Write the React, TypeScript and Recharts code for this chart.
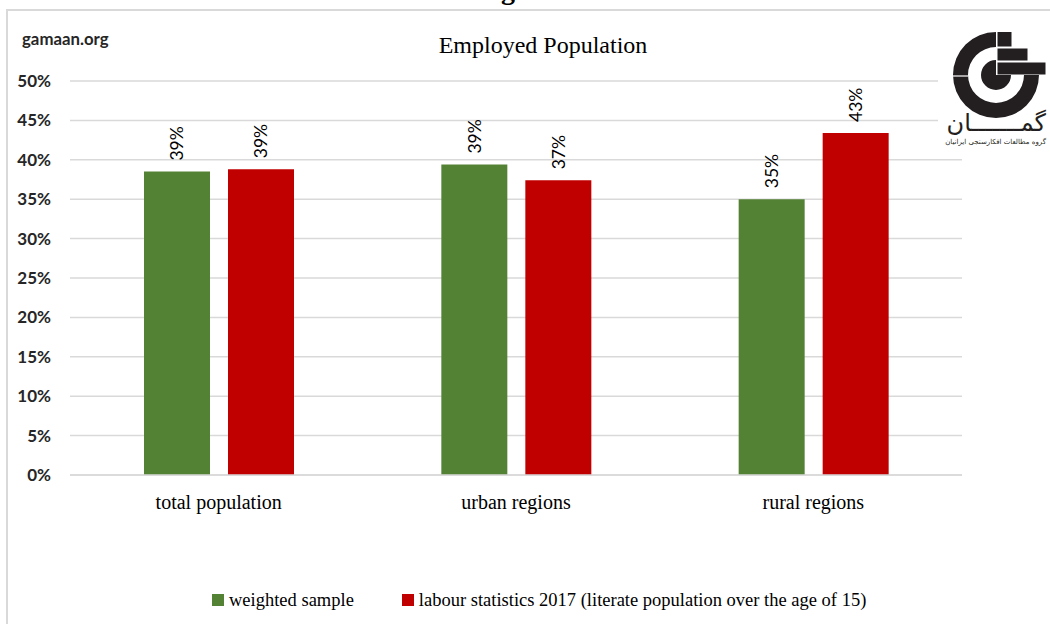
import React from 'react';
import { BarChart, Bar, XAxis, YAxis, CartesianGrid, LabelList } from 'recharts';

const categories = ['total population', 'urban regions', 'rural regions'];
const weightedSample = [38.5, 39.4, 35.0];
const labourStats2017 = [38.8, 37.4, 43.4];
const yTicks = [0, 5, 10, 15, 20, 25, 30, 35, 40, 45, 50];

const series = [
  { key: 'weighted', name: 'weighted sample', color: '#548235' },
  { key: 'labour', name: 'labour statistics 2017 (literate population over the age of 15)', color: '#c00000' },
];

const data = categories.map((name, i) => ({
  name,
  weighted: weightedSample[i],
  labour: labourStats2017[i],
}));

const serif = '"Liberation Serif", "Times New Roman", serif';

// rotated percentage sitting just above each bar
const BarValueLabel = (props: any) => {
  const { x, y, width, value } = props;
  const cx = Number(x) + Number(width) / 2;
  const ty = Number(y) - 11;
  return (
    <text
      x={cx}
      y={ty}
      transform={`rotate(-90 ${cx} ${ty})`}
      textAnchor="start"
      dominantBaseline="central"
      fontFamily="Lato, sans-serif"
      fontSize={17.5}
      fill="#000"
    >
      {Math.round(Number(value))}%
    </text>
  );
};

const Logo = () => {
  const cx = 58;
  const cy = 50;
  const R = 43;
  const r = 28;
  const d = 15;
  const ring = `M ${cx + R} ${cy} A ${R} ${R} 0 1 1 ${cx} ${cy - R} L ${cx} ${cy - r} A ${r} ${r} 0 1 0 ${cx + r} ${cy} Z`;
  const disc = `M ${cx} ${cy} L ${cx + d} ${cy} A ${d} ${d} 0 1 1 ${cx} ${cy - d} Z`;
  return (
    <div style={{ position: 'absolute', left: 938, top: 25, width: 112, height: 127, background: '#fff' }}>
      <svg width={112} height={127} style={{ position: 'absolute', left: 0, top: 0 }}>
        <path d={ring} fill="#231f20" />
        <path d={disc} fill="#231f20" />
        <rect x={cx + 1.5} y={cy - R} width={14} height={14.5} fill="#231f20" />
        <rect x={cx + 1.5} y={cy - R + 16.5} width={30} height={12} fill="#231f20" />
        <rect x={cx + 1.5} y={cy - 12.5} width={48} height={12} fill="#231f20" />
        <line x1={cx - R} y1={cy + 1} x2={cx - r} y2={cy + 1} stroke="#fff" strokeWidth={1.2} />
      </svg>
      <div
        dir="rtl"
        style={{
          position: 'absolute',
          right: 4,
          top: 85,
          fontFamily: '"DejaVu Sans", sans-serif',
          fontSize: 24,
          lineHeight: '26px',
          color: '#231f20',
          whiteSpace: 'nowrap',
        }}
      >
        گمـــــــان
      </div>
      <div
        dir="rtl"
        style={{
          position: 'absolute',
          right: 4,
          top: 112,
          fontFamily: '"DejaVu Sans", sans-serif',
          fontSize: 7,
          lineHeight: '11px',
          color: '#231f20',
          whiteSpace: 'nowrap',
        }}
      >
        گروه مطالعات افکارسنجی ایرانیان
      </div>
    </div>
  );
};

export default function App() {
  return (
    <div
      style={{
        position: 'absolute',
        left: 0,
        top: 0,
        width: 1050,
        height: 624,
        overflow: 'hidden',
        background: '#fff',
      }}
    >
      {/* heading of the page above, only its bottom edge shows */}
      <div
        style={{
          position: 'absolute',
          left: 0,
          top: 0,
          width: 1050,
          height: 9,
          overflow: 'hidden',
        }}
      >
        <div
          style={{
            position: 'absolute',
            left: 476,
            top: -24,
            fontFamily: serif,
            fontWeight: 700,
            fontSize: 28,
            lineHeight: '28px',
            color: '#000',
            whiteSpace: 'nowrap',
          }}
        >
          Figure 3
        </div>
      </div>

      {/* frame */}
      <div
        style={{
          position: 'absolute',
          left: 6,
          top: 9,
          width: 1100,
          height: 700,
          borderTop: '2px solid #d9d9d9',
          borderLeft: '2px solid #d9d9d9',
        }}
      />

      <BarChart
        width={1050}
        height={624}
        data={data}
        margin={{ top: 81, right: 88, bottom: 119, left: 0 }}
        barSize={66}
        barGap={18}
        style={{ position: 'absolute', left: 0, top: 0 }}
      >
        <CartesianGrid vertical={false} stroke="#d9d9d9" strokeWidth={1.5} />
        <XAxis
          dataKey="name"
          height={30}
          axisLine={{ stroke: '#d9d9d9', strokeWidth: 1.5 }}
          tickLine={false}
          tickMargin={14}
          tick={{ fontFamily: serif, fontSize: 20, fill: '#000' }}
        />
        <YAxis
          width={70}
          domain={[0, 50]}
          ticks={yTicks}
          interval={0}
          axisLine={false}
          tickLine={false}
          tickMargin={13}
          tickFormatter={(v: number) => `${v}%`}
          tick={{ fontFamily: 'Lato, sans-serif', fontWeight: 700, fontSize: 17, fill: '#262626' }}
        />
        {series.map((s) => (
          <Bar key={s.key} dataKey={s.key} name={s.name} fill={s.color} isAnimationActive={false}>
            <LabelList dataKey={s.key} content={<BarValueLabel />} />
          </Bar>
        ))}
      </BarChart>

      <div
        style={{
          position: 'absolute',
          left: 343,
          top: 33,
          width: 400,
          textAlign: 'center',
          fontFamily: serif,
          fontSize: 24,
          lineHeight: '24px',
          color: '#000',
        }}
      >
        Employed Population
      </div>

      <div
        style={{
          position: 'absolute',
          left: 22,
          top: 30,
          fontFamily: 'Lato, sans-serif',
          fontWeight: 700,
          fontSize: 16.8,
          lineHeight: '17px',
          color: '#262626',
        }}
      >
        gamaan.org
      </div>

      <Logo />

      {/* legend */}
      <div
        style={{
          position: 'absolute',
          left: 212,
          top: 590,
          display: 'flex',
          alignItems: 'center',
          height: 20,
          fontFamily: serif,
          fontSize: 18.5,
          color: '#000',
          whiteSpace: 'nowrap',
        }}
      >
        {series.map((s, i) => (
          <div key={s.key} style={{ display: 'flex', alignItems: 'center', marginRight: i === 0 ? 48 : 0 }}>
            <span style={{ display: 'inline-block', width: 12, height: 12, background: s.color, marginRight: 5 }} />
            <span>{s.name}</span>
          </div>
        ))}
      </div>
    </div>
  );
}
